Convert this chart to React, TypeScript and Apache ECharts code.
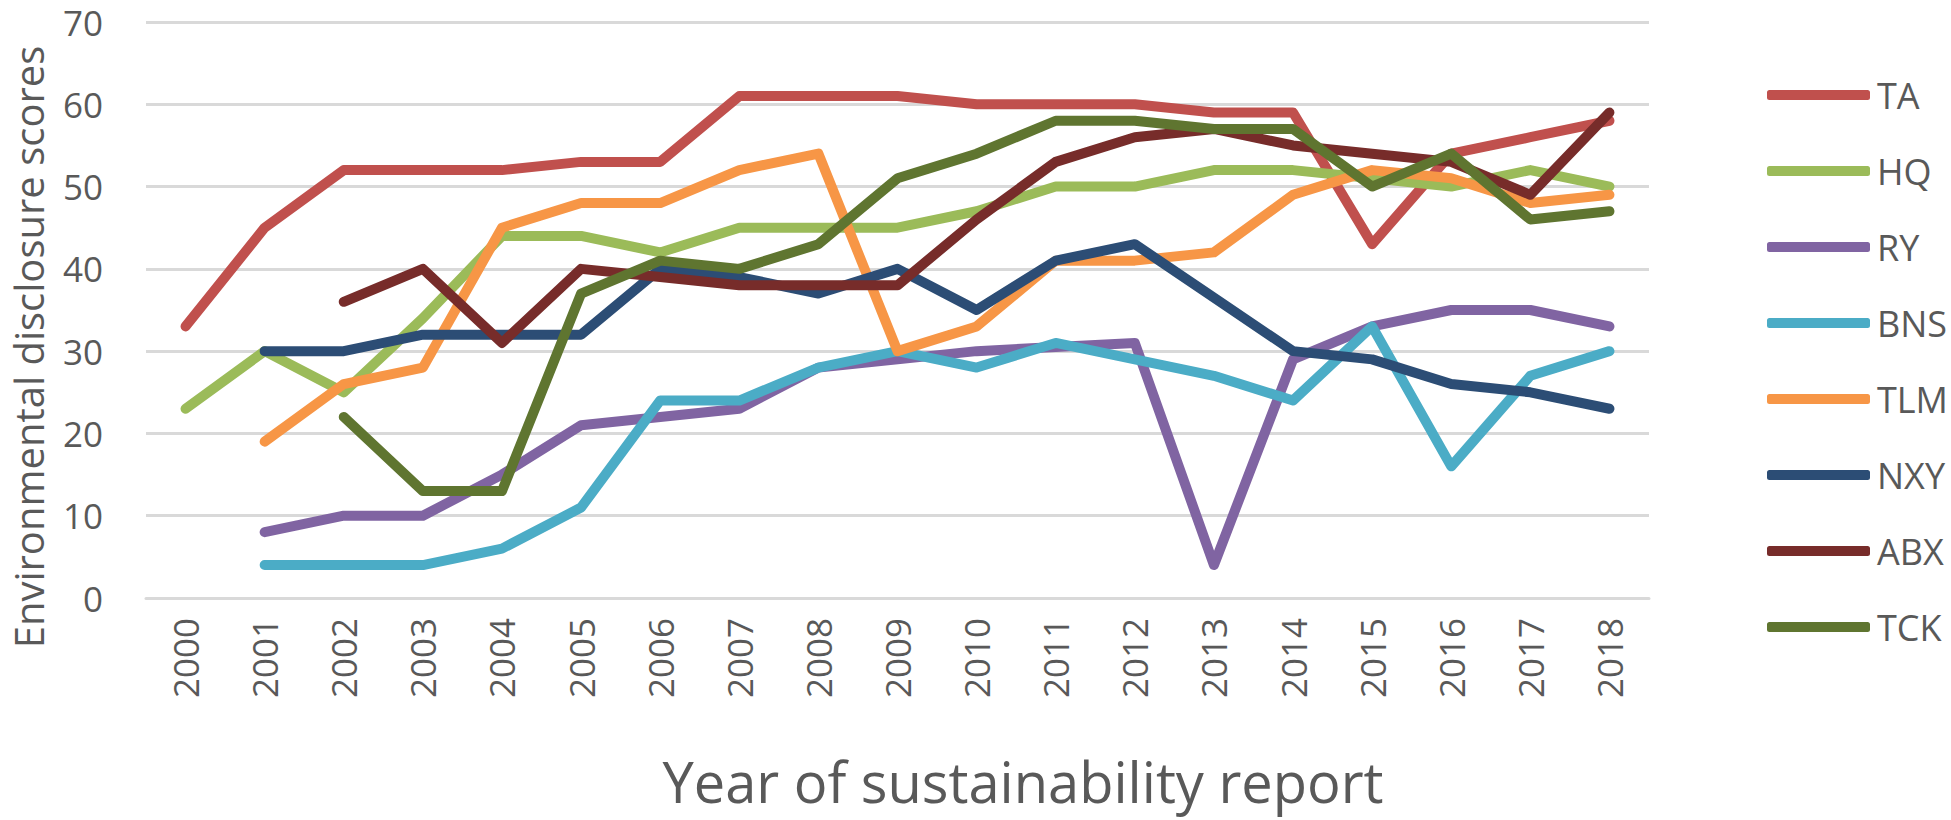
import React, { useEffect, useRef } from "react";
import * as echarts from "echarts";

const years = ["2000","2001","2002","2003","2004","2005","2006","2007","2008","2009","2010","2011","2012","2013","2014","2015","2016","2017","2018"];
const seriesNames = ["TA","HQ","RY","BNS","TLM","NXY","ABX","TCK"];
const colors = ["#C0504D","#9BBB59","#8064A2","#4BACC6","#F79646","#2C4D75","#772C2A","#5F7530"];

const TA  = [33,45,52,52,52,53,53,61,61,61,60,60,60,59,59,43,54,56,58];
const HQ  = [23,30,25,34,44,44,42,45,45,45,47,50,50,52,52,51,50,52,50];
const RY  = [null,8,10,10,15,21,22,23,28,29,30,30.5,31,4,29,33,35,35,33];
const BNS = [null,4,4,4,6,11,24,24,28,30,28,31,29,27,24,33,16,27,30];
const TLM = [null,19,26,28,45,48,48,52,54,30,33,41,41,42,49,52,51,48,49];
const NXY = [null,30,30,32,32,32,40,39,37,40,35,41,43,36.5,30,29,26,25,23];
const ABX = [null,null,36,40,31,40,39,38,38,38,46,53,56,57,55,54,53,49,59];
const TCK = [null,null,22,13,13,37,41,40,43,51,54,58,58,57,57,50,54,46,47];

const allData = [TA, HQ, RY, BNS, TLM, NXY, ABX, TCK];

const yTicks = [0, 10, 20, 30, 40, 50, 60, 70];
const xTitle = "Year of sustainability report";
const yTitle = "Environmental disclosure scores";

const FONT = "'Open Sans', 'Noto Sans', sans-serif";
const TEXT = "#595959";

export default function App() {
  const ref = useRef<HTMLDivElement>(null);
  useEffect(() => {
    if (!ref.current) return;
    const chart = echarts.init(ref.current, null, { renderer: "svg" });
    chart.setOption({
      animation: false,
      backgroundColor: "#ffffff",
      textStyle: { fontFamily: FONT },
      grid: { left: 146, right: 302, top: 22, bottom: 222, containLabel: false },
      xAxis: {
        type: "category",
        data: years,
        boundaryGap: true,
        axisLine: { show: true, lineStyle: { color: "#D9D9D9", width: 3 } },
        axisTick: { show: false },
        axisLabel: {
          rotate: 90,
          margin: 20,
          color: TEXT,
          fontSize: 35,
          fontFamily: FONT,
          interval: 0,
        },
      },
      yAxis: {
        type: "value",
        min: yTicks[0],
        max: yTicks[yTicks.length - 1],
        interval: 10,
        axisLine: { show: false },
        axisTick: { show: false },
        axisLabel: { color: TEXT, fontSize: 35, fontFamily: FONT, margin: 43, lineHeight: 34 },
        splitLine: { lineStyle: { color: "#D9D9D9", width: 3 } },
      },
      legend: {
        orient: "vertical",
        left: 1762,
        top: 70,
        icon: "roundRect",
        itemWidth: 103,
        itemHeight: 10,
        itemGap: 36,
        textStyle: { color: TEXT, fontSize: 36, fontFamily: FONT, lineHeight: 40, padding: [0, 0, 0, 2] },
        data: seriesNames,
      },
      series: seriesNames.map((name, i) => ({
        name,
        type: "line",
        data: allData[i],
        symbol: "none",
        showSymbol: false,
        connectNulls: false,
        color: colors[i],
        itemStyle: { color: colors[i] },
        lineStyle: { color: colors[i], width: 10, cap: "round", join: "round" },
      })),
      graphic: [
        {
          type: "text",
          x: 28,
          y: 347,
          rotation: Math.PI / 2,
          style: {
            text: yTitle,
            fill: TEXT,
            fontSize: 40,
            lineHeight: 40,
            fontFamily: FONT,
            align: "center",
            verticalAlign: "middle",
          },
        },
        {
          type: "text",
          x: 1023,
          y: 781,
          style: {
            text: xTitle,
            fill: TEXT,
            fontSize: 56,
            lineHeight: 56,
            fontFamily: FONT,
            align: "center",
            verticalAlign: "middle",
          },
        },
      ],
    });
    return () => chart.dispose();
  }, []);
  return (
    <div
      ref={ref}
      style={{ position: "fixed", left: 0, top: 0, width: 1951, height: 820 }}
    />
  );
}
